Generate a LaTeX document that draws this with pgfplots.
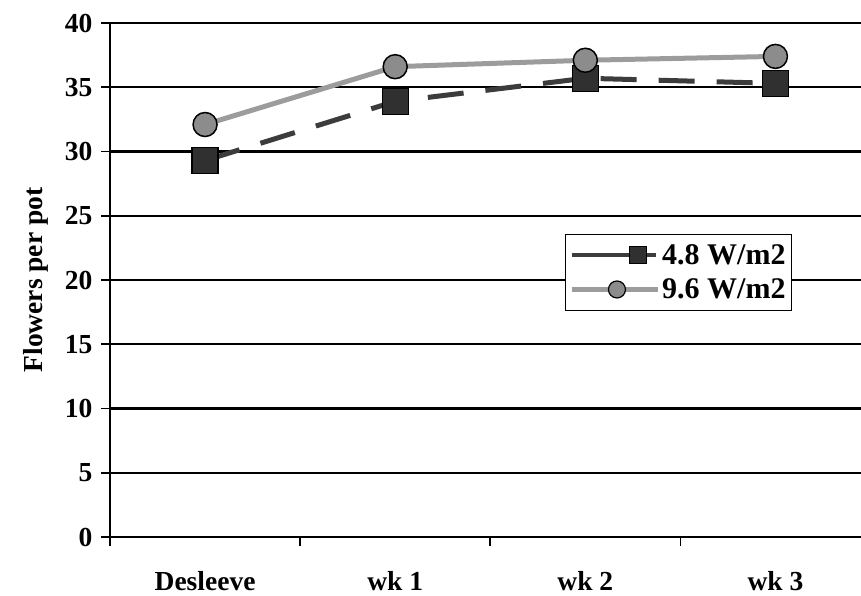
\documentclass[border=0pt]{standalone}
\usepackage{pgfplots}
\pgfplotsset{compat=1.18}
\usepackage{fontspec}
\setmainfont{Liberation Serif}

\definecolor{lineA}{HTML}{3C3C3C}
\definecolor{lineB}{HTML}{9C9C9C}
\definecolor{fillA}{HTML}{303030}
\definecolor{fillB}{HTML}{8C8C8C}

\newcommand{\chartfont}{\fontsize{27.5}{31}\selectfont\bfseries}

% legend samples: a line with the mark placed along it
\pgfplotsset{
  late mark legend/.style={legend image code/.code={%
    \draw[mark repeat=2,mark phase=2,##1] plot coordinates {(0pt,0pt) (66pt,0pt) (84pt,0pt)};}},
  mid mark legend/.style={legend image code/.code={%
    \draw[mark repeat=2,mark phase=2,##1] plot coordinates {(0pt,0pt) (45pt,0pt) (86pt,0pt)};}},
}

\pgfplotstableread{
x  y
0  29.3
1  33.9
2  35.7
3  35.3
}\lowdensity
\pgfplotstableread{
x  y
0  32.1
1  36.6
2  37.1
3  37.4
}\highdensity

\begin{document}
\begin{tikzpicture}
\useasboundingbox (-110pt,-59pt) rectangle (751pt,537pt);
\begin{axis}[
  scale only axis, width=751pt, height=514pt,
  xmin=-0.5, xmax=3.45, ymin=0, ymax=40,
  axis x line*=bottom, axis y line*=left,
  axis line style={line width=2pt, black, -},
  tick align=outside,
  xtick={0,1,2,3},
  xticklabels={Desleeve, wk 1, wk 2, wk 3},
  major x tick style={draw=none},
  minor xtick={-0.5,0.5,1.5,2.5},
  minor x tick style={line width=1.6pt, black},
  minor tick length=9pt,
  ytick={0,5,...,40},
  major y tick style={line width=1.8pt, black},
  major tick length=9pt,
  ymajorgrids,
  major grid style={line width=2.2pt, black},
  /pgf/number format/assume math mode=true,
  ticklabel style={font=\chartfont},
  xticklabel style={yshift=-22pt},
  yticklabel style={xshift=-5pt},
  ylabel={Flowers per pot},
  ylabel style={font=\chartfont, yshift=10pt},
  legend style={at={(rel axis cs:0.606,0.59)}, anchor=north west,
    draw=black, line width=1.2pt, fill=white,
    font=\fontsize{30}{34}\selectfont\bfseries,
    inner xsep=4pt, inner ysep=8pt, row sep=9pt,
    nodes={inner sep=2pt}},
  legend cell align=left,
]
\addplot[forget plot, color=lineA, line width=5pt, dash pattern=on 36pt off 22pt,
  mark=square*, mark size=13pt,
  mark options={solid, fill=fillA, draw=black, line width=1.2pt}]
  table[x=x,y=y] {\lowdensity};
\addplot[forget plot, color=lineB, line width=5pt,
  mark=*, mark size=12pt,
  mark options={fill=fillB, draw=black, line width=1.5pt}]
  table[x=x,y=y] {\highdensity};

\addlegendimage{late mark legend, color=lineA, line width=4.5pt, mark=square*, mark size=8.5pt,
  mark options={fill=fillA, draw=black, line width=1pt}}
\addlegendentry{4.8 W/m2}
\addlegendimage{mid mark legend, color=lineB, line width=4.5pt, mark=*, mark size=8.5pt,
  mark options={fill=fillB, draw=black, line width=1.2pt}}
\addlegendentry{9.6 W/m2}
\end{axis}
\end{tikzpicture}
\end{document}
